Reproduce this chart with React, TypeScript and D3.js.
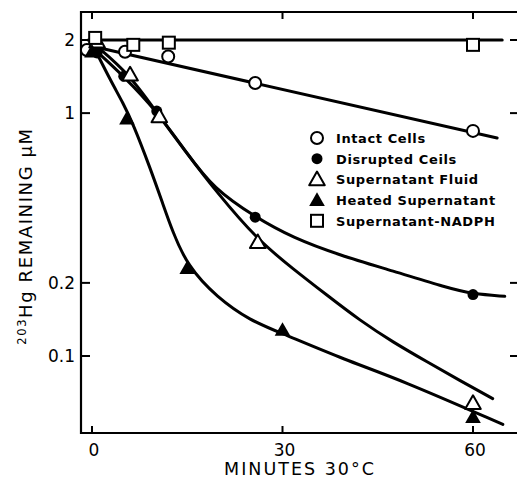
import { useEffect, useRef } from 'react';
import * as d3 from 'd3';

const W = 517
const H = 487
// plot frame in page pixels
const frame = { left: 81, right: 518, top: 12, bottom: 433 }

const xTicks = [0, 30, 60]
const yTicks = [2, 1, 0.2, 0.1]

// measured points [minutes, uM]
const intactPts = [[-0.8, 1.82], [5.2, 1.79], [12, 1.71], [25.7, 1.33], [60, 0.845]]
const disruptedPts = [[0.8, 1.77], [5, 1.42], [10.2, 1.02], [25.7, 0.373], [60, 0.179]]
const fluidPts = [[0.8, 1.97], [6, 1.44], [10.6, 0.97], [26.1, 0.294], [60, 0.064]]
const heatedPts = [[0, 1.79], [5.5, 0.95], [15, 0.23], [30, 0.128], [60, 0.056]]
const nadphPts = [[0.5, 2.04], [6.5, 1.91], [12.1, 1.95], [60, 1.91]]

// hand-drawn fit curves [minutes, uM]
const intactFit = [[0.2, 1.88], [63.8, 0.79]]
const disruptedFit = [[0.5, 1.82], [5, 1.42], [10.2, 1.02], [15, 0.68], [19.1, 0.49], [25.7, 0.373], [31.7, 0.306], [39, 0.26], [47.4, 0.224], [55.9, 0.191], [60, 0.18], [65, 0.176]]
const fluidFit = [[0.5, 1.91], [6, 1.44], [10.6, 0.97], [15, 0.68], [19.7, 0.47], [26.1, 0.3], [31.7, 0.228], [37, 0.178], [42.2, 0.14], [47.4, 0.114], [52.8, 0.0945], [58, 0.079], [63.1, 0.0668]]
const heatedFit = [[0.5, 1.82], [3, 1.35], [4.9, 1.1], [6.5, 0.9], [9.1, 0.6], [11.2, 0.42], [12.6, 0.33], [15, 0.235], [19.7, 0.174], [24.9, 0.14], [29.9, 0.124], [40, 0.096], [48.5, 0.08], [64.7, 0.0523]]
const nadphFit = [[-0.6, 2.0], [64.6, 2.0]]

const legendLabels = ['Intact Cells', 'Disrupted Ceils', 'Supernatant Fluid', 'Heated Supernatant', 'Supernatant-NADPH']

const font = 'DejaVu Sans, sans-serif'

const App = () => {
  const ref = useRef(null)

  useEffect(() => {
    if (!ref.current) return
    const svg = d3.select(ref.current)
    svg.selectAll('*').remove()

    const x = d3.scaleLinear().domain([0, 60]).range([92, 473])
    const y = d3.scaleLog().domain([0.1, 2]).range([356, 40])

    // frame
    svg.append('path')
      .attr('d', `M${frame.right},${frame.top}H${frame.left}V${frame.bottom}H${frame.right}`)
      .attr('fill', 'none').attr('stroke', '#000').attr('stroke-width', 2.2)

    // inward ticks
    const g = svg.append('g').attr('stroke', '#000').attr('stroke-width', 2)
    yTicks.forEach(v => {
      g.append('line').attr('x1', frame.left).attr('x2', frame.left + 9).attr('y1', y(v)).attr('y2', y(v))
      g.append('line').attr('x1', frame.right - 8).attr('x2', frame.right).attr('y1', y(v)).attr('y2', y(v))
    })
    xTicks.forEach(v => {
      g.append('line').attr('x1', x(v)).attr('x2', x(v)).attr('y1', frame.bottom).attr('y2', frame.bottom - 7)
      g.append('line').attr('x1', x(v)).attr('x2', x(v)).attr('y1', frame.top).attr('y2', frame.top + 7)
    })

    // tick labels
    svg.selectAll('.ylab').data(yTicks).enter().append('text')
      .attr('x', frame.left - 6).attr('y', d => y(d) + 6)
      .attr('text-anchor', 'end').attr('font-family', font).attr('font-size', 17)
      .text(d => String(d))
    svg.selectAll('.xlab').data(xTicks).enter().append('text')
      .attr('x', d => x(d) + 2).attr('y', 456)
      .attr('text-anchor', 'middle').attr('font-family', font).attr('font-size', 17)
      .text(d => String(d))

    // axis titles
    svg.append('text')
      .attr('x', 300).attr('y', 475).attr('text-anchor', 'middle')
      .attr('font-family', font).attr('font-size', 17.5).attr('letter-spacing', 2)
      .text('MINUTES 30°C')
    const yt = svg.append('text')
      .attr('transform', 'translate(32,236) rotate(-90)').attr('text-anchor', 'middle')
      .attr('font-family', font).attr('font-size', 18).attr('letter-spacing', 1.6)
      .attr('font-weight', 500)
    yt.append('tspan').attr('font-size', 11.5).attr('dy', -6).text('203')
    yt.append('tspan').attr('dy', 6).text('Hg REMAINING µM')

    // curves
    const line = d3.line<number[]>()
      .x(d => x(d[0])).y(d => y(d[1]))
      .curve(d3.curveBasis)
    ;[intactFit, disruptedFit, fluidFit, heatedFit, nadphFit].forEach(c => {
      svg.append('path').attr('d', line(c)).attr('fill', 'none')
        .attr('stroke', '#000').attr('stroke-width', 3).attr('stroke-linecap', 'round')
    })

    // markers
    const tri = (cx: number, cy: number, s: number) =>
      `M${cx},${cy - s * 0.6}L${cx + s * 0.6},${cy + s * 0.45}L${cx - s * 0.6},${cy + s * 0.45}Z`
    const drawMarker = (sel: any, kind: number, cx: number, cy: number) => {
      if (kind === 0) sel.append('circle').attr('cx', cx).attr('cy', cy).attr('r', 6)
        .attr('fill', '#fff').attr('stroke', '#000').attr('stroke-width', 2)
      if (kind === 1) sel.append('circle').attr('cx', cx).attr('cy', cy).attr('r', 5.5).attr('fill', '#000')
      if (kind === 2) sel.append('path').attr('d', tri(cx, cy, 13))
        .attr('fill', '#fff').attr('stroke', '#000').attr('stroke-width', 2).attr('stroke-linejoin', 'round')
      if (kind === 3) sel.append('path').attr('d', tri(cx, cy, 13)).attr('fill', '#000')
      if (kind === 4) sel.append('rect').attr('x', cx - 6).attr('y', cy - 6).attr('width', 12).attr('height', 12)
        .attr('fill', '#fff').attr('stroke', '#000').attr('stroke-width', 2)
    }
    const mg = svg.append('g')
    ;[intactPts, disruptedPts, fluidPts, heatedPts, nadphPts].forEach((pts, k) => {
      pts.forEach(p => drawMarker(mg, k, x(p[0]), y(p[1])))
    })

    // legend
    const lg = svg.append('g')
    legendLabels.forEach((lab, i) => {
      const ly = 138 + i * 20.7
      drawMarker(lg, i, 317, ly)
      lg.append('text').attr('x', 336).attr('y', ly + 5)
        .attr('font-family', font).attr('font-size', 13).attr('font-weight', 'bold')
        .attr('letter-spacing', 0.6)
        .text(lab)
    })
  }, [])

  return (
    <svg ref={ref} width={W} height={H}
      style={{ position: 'absolute', left: 0, top: 0, background: '#fff' }} />
  )
}

export default App;
